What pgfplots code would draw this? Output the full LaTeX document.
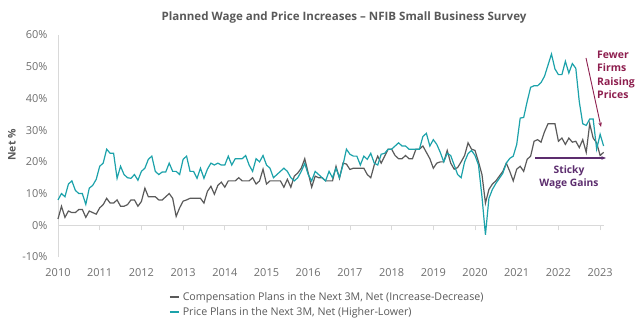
\documentclass[border=0pt]{standalone}
\usepackage{fontspec}
\setmainfont{Open Sans}
\usepackage{pgfplots}
\pgfplotsset{compat=1.18}
\usepackage{pgfplotstable}
\usetikzlibrary{arrows.meta}
\definecolor{compC}{HTML}{5A5A5A}
\definecolor{priceC}{HTML}{1CA2AA}
\definecolor{axisC}{HTML}{D9D9D9}
\definecolor{tickC}{HTML}{6E6E6E}
\definecolor{titleC}{HTML}{595959}
\definecolor{maroonC}{HTML}{8E1F4F}
\definecolor{purpleC}{HTML}{5C2D6E}

\pgfplotstableread{
comp price
2 8
6 10
2.5 9
4.5 13
4 14
4 11
5 10
5 10
2.5 6.6
4.5 11.7
4 12.6
3.5 14.5
5.5 18.6
6.5 19.6
8.5 24
7 22.7
7 22.7
8 14.8
6 18.6
6 16
6.5 15
8 14.8
8 16
6 14.2
7.5 17
11.7 18
9 20.8
9 21.8
9 17
8 16
8 16.8
9 16.8
10 19.6
8.5 17
2.8 17
5.5 16
7.6 20.8
8 21.8
8.5 17
8.5 17
8.5 14.8
8.5 18
7 14.8
10.7 17.7
12.3 19.6
9.8 19
12.6 19.6
13.6 19
12 19
14 21.8
14 19
14 21
15 21
14 21
14 22
14 19
15 17
13 21
14 20
17.7 22
13 19
14 18
14 15
14 16
14 17
12 18
14.5 17
12 15
15.5 14
16.5 15
18 17
21 19.5
16.5 16
12 14
15.5 17
15 16
15 15
14 14
14 17
14 15
18.6 18
14.8 15
19.6 19
19.3 24
17.6 22.4
18 21.8
18 21.8
18 19
18 21.8
16 20.8
15 22.7
19 19.6
21.8 19
19.6 22.4
21.8 22.7
24 24
24 24
22 25
21 26
21 25
22 25
21 24
21 24
24 24
24 24
25 28
23 29
21 25
18 27
19.6 25.5
20 23
20 20
23.6 22.7
19.6 22
17.7 19
18.2 16
20 15
22 20
26 22.6
24 23.6
23.6 22
20 19
16 9
7 -3
11.3 8.5
13 11.3
14 13.2
15.5 14.8
17 16.4
19.6 19.6
17 21.1
14 21.8
17.7 25.5
18.6 33.8
17 34
20.8 39
21.8 43.5
26.5 44
27 44
26.2 45
29.5 47
32 50.5
32 54
32 49.3
26.5 47.5
27.5 47.5
25.5 51.7
27.5 48
26.2 51
26.5 49.5
24.5 39
27 32
23 31.5
32 33.5
27.5 33.5
26 24
22 28.7
23 25
}\datatable

\begin{document}
\begin{tikzpicture}
\begin{axis}[
  at={(58bp,64bp)}, anchor=south west,
  scale only axis, width=545.6bp, height=222bp,
  xmin=0, xmax=157, ymin=-10, ymax=60,
  axis y line=left, axis x line=middle,
  axis line style={-, draw=axisC, line width=0.8pt},
  hide obscured x ticks=false,
  xtick={0,12,...,156},
  xticklabels={2010,2011,2012,2013,2014,2015,2016,2017,2018,2019,2020,2021,2022,2023},
  ytick={-10,0,10,20,30,40,50,60},
  yticklabels={-10\%,0\%,10\%,20\%,30\%,40\%,50\%,60\%},
  tick align=outside,
  major tick length=5bp,
  x tick style={draw=axisC, line width=0.8pt},
  y tick style={draw=none},
  tick label style={font=\fontsize{11}{12}\selectfont, text=tickC},
  xticklabel style={yshift=-35bp},
  yticklabel style={xshift=-2bp},
  legend style={at={(axis description cs:0.203,-0.148)}, anchor=north west,
    draw=none, fill=none, inner sep=0pt, row sep=1.5bp,
    font=\fontsize{10.7}{12}\selectfont,
    nodes={text=titleC},
    /tikz/every odd column/.style={column sep=1bp}},
  legend cell align=left,
  legend image code/.code={\draw[#1, line width=1.8bp] (0bp,0bp) -- (9bp,0bp);},
  clip=false,
]
\addplot[compC, line width=1.2bp] table[x expr=\coordindex, y=comp]{\datatable};
\addlegendentry{Compensation Plans in the Next 3M, Net (Increase-Decrease)}
\addplot[priceC, line width=1.2bp] table[x expr=\coordindex, y=price]{\datatable};
\addlegendentry{Price Plans in the Next 3M, Net (Higher-Lower)}
\end{axis}
\node[font=\bfseries\fontsize{11.6}{13}\selectfont, text=titleC] at (344bp,303bp)
  {Planned Wage and Price Increases – NFIB Small Business Survey};
\node[rotate=90, font=\bfseries\fontsize{10.5}{12}\selectfont, text=titleC] at (12bp,176bp) {Net \%};
\node[anchor=north west, align=left, inner sep=0pt, font=\bfseries\fontsize{10.5}{13.3}\selectfont, text=maroonC]
  at (597bp,270bp) {Fewer\\Firms\\Raising\\Prices};
\draw[maroonC, line width=0.9bp, -{Stealth[length=4.5bp,width=3.5bp]}] (586bp,263bp) -- (601bp,194bp);
\draw[purpleC, line width=1.2bp, -{Stealth[length=4.5bp,width=3.5bp]}] (535bp,163bp) -- (606bp,163bp);
\node[align=center, inner sep=0pt, font=\bfseries\fontsize{10.3}{13}\selectfont, text=purpleC]
  at (569bp,143.5bp) {Sticky\\Wage Gains};
\pgfresetboundingbox
\useasboundingbox (0bp,0bp) rectangle (640bp,321bp);
\end{tikzpicture}
\end{document}
